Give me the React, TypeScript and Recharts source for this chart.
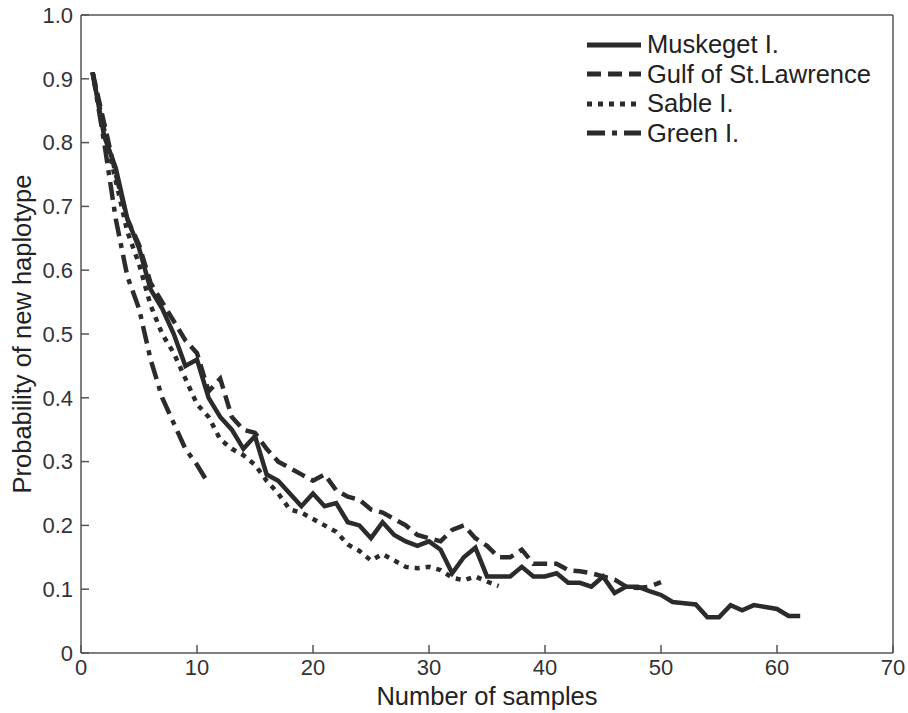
import { Legend, Line, LineChart, XAxis, YAxis } from 'recharts';

// probability of a new haplotype after n samples (n = index + 1)
const muskeget = [
  0.91, 0.81, 0.76, 0.68, 0.635, 0.57, 0.54, 0.5, 0.45, 0.46,
  0.4, 0.37, 0.35, 0.32, 0.34, 0.28, 0.27, 0.25, 0.23, 0.25,
  0.23, 0.235, 0.205, 0.2, 0.18, 0.205, 0.185, 0.175, 0.168, 0.175,
  0.162, 0.125, 0.15, 0.165, 0.12, 0.12, 0.12, 0.135, 0.12, 0.12,
  0.125, 0.11, 0.11, 0.104, 0.12, 0.094, 0.104, 0.104, 0.097, 0.091,
  0.08, 0.078, 0.076, 0.056, 0.056, 0.075, 0.067, 0.075, 0.072, 0.069,
  0.058, 0.058,
];
const gulfStLawrence = [
  0.91, 0.83, 0.75, 0.68, 0.64, 0.58, 0.55, 0.52, 0.49, 0.47,
  0.41, 0.43, 0.37, 0.35, 0.345, 0.32, 0.3, 0.29, 0.28, 0.27,
  0.28, 0.255, 0.245, 0.24, 0.225, 0.22, 0.21, 0.2, 0.185, 0.18,
  0.175, 0.193, 0.2, 0.18, 0.168, 0.15, 0.15, 0.162, 0.14, 0.14,
  0.14, 0.13, 0.128, 0.125, 0.12, 0.115, 0.104, 0.102, 0.104, 0.111,
];
const sable = [
  0.91, 0.82, 0.74, 0.66, 0.61, 0.545, 0.5, 0.47, 0.43, 0.39,
  0.37, 0.335, 0.32, 0.31, 0.295, 0.27, 0.25, 0.225, 0.22, 0.21,
  0.2, 0.19, 0.17, 0.16, 0.145, 0.155, 0.145, 0.135, 0.133, 0.135,
  0.13, 0.118, 0.114, 0.12, 0.112, 0.105,
];
const green = [0.91, 0.8, 0.68, 0.59, 0.54, 0.46, 0.4, 0.36, 0.32, 0.295, 0.265];

const xTicks = [0, 10, 20, 30, 40, 50, 60, 70];
const yTicks = [0, 0.1, 0.2, 0.3, 0.4, 0.5, 0.6, 0.7, 0.8, 0.9, 1];

const toPoints = (values: number[]) => values.map((p, i) => ({ n: i + 1, p }));

const FONT = '"Liberation Sans", Arial, sans-serif';
const INK = '#2b2b2b';
const AXIS = '#555';

const series = [
  { name: 'Muskeget I.', values: muskeget, dash: undefined },
  { name: 'Gulf of St.Lawrence', values: gulfStLawrence, dash: '14 7' },
  { name: 'Sable I.', values: sable, dash: '5 6' },
  { name: 'Green I.', values: green, dash: '18 7 5 7' },
];

const tickStyle = { fontFamily: FONT, fontSize: 22, fill: '#333' };
const labelStyle = { fontFamily: FONT, fontSize: 25.5, fill: '#222' };

const LegendBox = () => (
  <div style={{ fontFamily: FONT, fontSize: 25.5, color: '#222' }}>
    {series.map((s) => (
      <div key={s.name} style={{ display: 'flex', alignItems: 'center', height: 29.5 }}>
        <svg width={56} height={10}>
          <line x1={1} x2={55} y1={5} y2={5} stroke={INK} strokeWidth={5} strokeDasharray={s.dash} />
        </svg>
        <span style={{ marginLeft: 5 }}>{s.name}</span>
      </div>
    ))}
  </div>
);

export default function App() {
  return (
    <div style={{ position: 'absolute', left: 0, top: 0, background: '#fff' }}>
      <LineChart width={908} height={713} margin={{ top: 14, right: 14, bottom: 0, left: 0 }}>
        <XAxis
          dataKey='n'
          type='number'
          domain={[0, 70]}
          ticks={xTicks}
          height={60}
          tickSize={-8}
          tickMargin={14}
          tick={tickStyle}
          stroke={AXIS}
          strokeWidth={1.5}
          allowDataOverflow
          label={{ value: 'Number of samples', position: 'insideBottom', offset: 8, style: labelStyle }}
        />
        <XAxis
          xAxisId='top'
          orientation='top'
          dataKey='n'
          type='number'
          domain={[0, 70]}
          ticks={xTicks}
          height={1}
          tickSize={-8}
          tick={false}
          stroke={AXIS}
          strokeWidth={1.5}
        />
        <YAxis
          type='number'
          domain={[0, 1]}
          ticks={yTicks}
          width={81}
          tickSize={-8}
          tickMargin={16}
          tick={tickStyle}
          tickFormatter={(v: number) => (v === 0 ? '0' : v.toFixed(1))}
          stroke={AXIS}
          strokeWidth={1.5}
          allowDataOverflow
          label={{
            value: 'Probability of new haplotype',
            angle: -90,
            position: 'insideLeft',
            offset: 22,
            style: { ...labelStyle, textAnchor: 'middle' },
          }}
        />
        <YAxis
          yAxisId='right'
          orientation='right'
          type='number'
          domain={[0, 1]}
          ticks={yTicks}
          width={1}
          tickSize={-8}
          tick={false}
          stroke={AXIS}
          strokeWidth={1.5}
        />
        <Legend
          layout='vertical'
          align='center'
          verticalAlign='middle'
          wrapperStyle={{ left: 586, top: 30, width: 310, height: 120 }}
          content={() => <LegendBox />}
        />
        {series.map((s) => (
          <Line
            key={s.name}
            name={s.name}
            data={toPoints(s.values)}
            dataKey='p'
            type='linear'
            stroke={INK}
            strokeWidth={4.5}
            strokeDasharray={s.dash}
            dot={false}
            activeDot={false}
            isAnimationActive={false}
          />
        ))}
      </LineChart>
    </div>
  );
}
